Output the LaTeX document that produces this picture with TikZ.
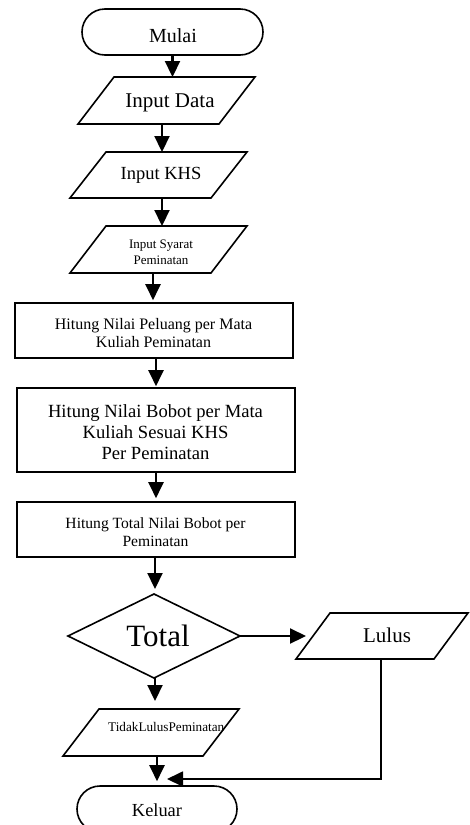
\documentclass[tikz,border=0pt]{standalone}
\usepackage{fontspec}
\setmainfont{Liberation Serif}
\usetikzlibrary{arrows.meta}
\newcommand\fs[2]{\fontsize{#1}{#2}\selectfont}
\newcommand\paradraw[2]{\draw[outline] ([xshift=#2]#1.north west) -- (#1.north east) -- ([xshift=-#2]#1.south east) -- (#1.south west) -- cycle;}
\begin{document}
\begin{tikzpicture}[x=1pt,y=-1pt,line join=miter,
  outline/.style={line width=1.6pt},
  frame/.style={inner sep=0pt, outer sep=0pt, draw=none},
  term/.style={draw, line width=1.6pt, rounded corners=23pt, inner sep=0pt, minimum height=46pt},
  procbox/.style={draw, line width=1.6pt, inner sep=0pt, minimum width=278pt},
  lbl/.style={anchor=base, align=center, inner sep=0pt},
  flow/.style={line width=2.2pt, -{Triangle[length=16pt,width=15pt]}},
]
\useasboundingbox (0,0) rectangle (469,825);
% shapes
\node[term, minimum width=181pt] (start) at (172.5,32) {};
\node[frame, minimum width=177pt, minimum height=47pt] (indata) at (166.5,100.5) {};
\paradraw{indata}{36pt}
\node[frame, minimum width=177pt, minimum height=46pt] (inkhs) at (158.5,175) {};
\paradraw{inkhs}{36pt}
\node[frame, minimum width=177pt, minimum height=47pt] (insyarat) at (158.5,249.5) {};
\paradraw{insyarat}{36pt}
\node[procbox, minimum height=55pt] (box1) at (154,330.5) {};
\node[procbox, minimum height=84pt] (box2) at (156,430) {};
\node[procbox, minimum height=55pt] (box3) at (156,529.5) {};
\node[frame, minimum width=172pt, minimum height=84pt] (dec) at (154,636) {};
\draw[outline] (dec.west) -- (dec.north) -- (dec.east) -- (dec.south) -- cycle;
\node[frame, minimum width=172pt, minimum height=46pt] (lulus) at (382,636) {};
\paradraw{lulus}{34pt}
\node[frame, minimum width=176pt, minimum height=47pt] (tidak) at (151,732.5) {};
\paradraw{tidak}{36pt}
\node[term, minimum width=160pt] (end) at (157,809) {};
% labels (anchor base = baseline of the last line)
\node[lbl, font=\fs{20}{22}] (t-start) at (173,42) {Mulai};
\node[lbl, font=\fs{21}{24}] (t-indata) at (170,107) {Input Data};
\node[lbl, font=\fs{18.5}{21}] (t-inkhs) at (161,179) {Input KHS};
\node[lbl, font=\fs{13}{16}] (t-insyarat) at (161,264) {Input Syarat\\Peminatan};
\node[lbl, font=\fs{16}{18}] (t-box1) at (153.5,347) {Hitung Nilai Peluang per Mata\\Kuliah Peminatan};
\node[lbl, font=\fs{18.6}{21}] (t-box2) at (155.5,459) {Hitung Nilai Bobot per Mata\\Kuliah Sesuai KHS\\Per Peminatan};
\node[lbl, font=\fs{15.6}{18}] (t-box3) at (155.5,546) {Hitung Total Nilai Bobot per\\Peminatan};
\node[lbl, font=\fs{31}{34}] (t-dec) at (158,646) {Total};
\node[lbl, font=\fs{21}{24}] (t-lulus) at (387,642) {Lulus};
\node[lbl, anchor=base west, font=\fs{13.2}{15}] (t-tidak) at (108,731) {TidakLulusPeminatan};
\node[lbl, font=\fs{18.4}{21}] (t-end) at (157,816) {Keluar};
% connectors
\coordinate (join) at (167,779);
\draw[flow] (start.south) -- (start.south |- indata.north);
\draw[flow] ([xshift=-4.5pt]indata.south) -- ([xshift=-4.5pt]indata.south |- inkhs.north);
\draw[flow] ([xshift=3.5pt]inkhs.south) -- ([xshift=3.5pt]inkhs.south |- insyarat.north);
\draw[flow, shorten >=2pt] ([xshift=-5.5pt]insyarat.south) -- ([xshift=-5.5pt]insyarat.south |- box1.north);
\draw[flow, shorten >=1pt] ([xshift=2pt]box1.south) -- ([xshift=2pt]box1.south |- box2.north);
\draw[flow, shorten >=3pt] (box2.south) -- (box2.south |- box3.north);
\draw[flow, shorten >=5pt] ([xshift=-1pt]box3.south) -- ([xshift=-1pt]box3.south |- dec.north);
\draw[flow] (dec.east) -- ([xshift=10pt]lulus.west);
\draw[flow, shorten >=8pt] ([xshift=1pt]dec.south) -- ([xshift=1pt]dec.south |- tidak.north);
\draw[flow, shorten >=4pt] ([xshift=6pt]tidak.south) -- ([xshift=6pt]tidak.south |- end.north);
\draw[flow, line width=1.8pt] ([xshift=-1pt]lulus.south) |- (join);
\end{tikzpicture}
\end{document}
